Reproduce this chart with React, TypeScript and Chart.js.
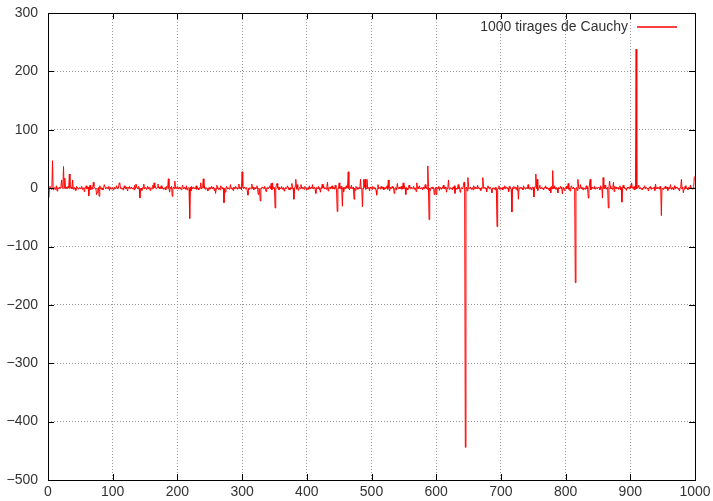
import React, { useEffect, useRef } from "react";
import { Chart, registerables } from "chart.js";

Chart.register(...registerables);

const SERIES_LABEL = "1000 tirages de Cauchy";
const SERIES_COLOR = "#ff0000";
const X_TICKS = [0, 100, 200, 300, 400, 500, 600, 700, 800, 900, 1000];
const Y_TICKS = [-500, -400, -300, -200, -100, 0, 100, 200, 300];

// small draws (hand-read band around zero), 20 rows of 50
const NOISE_ROWS: number[][] = [
  [0,2,-1,3,0,-2,1,5,-3,0, 1,-2,0,4,-5,1,0,-1,2,0, 3,-1,0,1,-4,0,6,-1,2,0, -1,3,0,-3,1,0,2,-1,7,0, -2,1,0,-4,3,1,0,-2,0,1],
  [-1,0,3,-2,1,0,-6,1,0,4, -1,0,2,-1,0,5,-3,1,0,-2, 1,3,0,-1,0,2,-7,0,1,-1, 4,0,-2,1,0,-3,1,0,6,-1, 0,2,-1,0,3,-4,1,0,-2,0],
  [1,-3,0,2,-1,0,4,-1,1,0, -2,8,0,-1,1,0,-3,1,4,0, -1,2,0,-5,1,0,3,-1,0,2, -1,0,1,-3,5,0,-1,2,0,-1, 3,0,1,-2,0,-4,1,0,7,-1],
  [0,1,-2,0,3,-1,2,0,-4,1, 0,-1,5,0,-2,1,3,-1,0,1, -6,0,2,-1,0,4,-1,1,0,-2, 0,1,-3,3,0,1,-2,0,-7,1, 0,3,-1,0,2,-1,5,0,-1,2],
  [3,-1,0,2,-1,0,-3,1,6,0, -1,2,0,-2,4,-3,0,1,-1,0, 2,-5,3,0,-1,2,0,-1,0,4, -2,1,0,-3,1,0,9,-1,0,2, -1,0,3,-2,1,0,-1,-5,0,1],
  [-2,1,0,3,-1,0,2,-4,0,1, -1,5,0,-2,1,0,-3,4,0,1, -1,0,2,-1,-7,0,3,-1,1,0, -2,0,6,-1,1,0,-4,2,0,-1, 3,0,1,-2,0,4,-1,0,2,-3],
  [0,3,-1,2,0,-1,0,1,-5,3, 0,-2,1,0,-1,7,0,2,-3,0, 1,-1,0,4,-2,1,0,-3,5,0, -1,2,0,-1,0,3,-2,-6,0,1, -1,0,2,4,-1,0,-3,1,0,2],
  [1,-2,0,5,-1,0,2,-3,1,0, -1,3,0,-2,1,-5,0,1,-1,0, 4,1,-2,0,-3,1,0,8,-1,0, 2,-1,3,0,-2,1,0,-4,0,1, -1,6,0,-1,2,0,-2,3,0,-1],
  [-3,0,1,-2,4,0,-1,2,0,6, -1,0,2,-3,0,1,-1,0,3,-2, 1,-7,0,2,-1,0,4,-1,1,0, -2,3,0,-5,1,0,2,-1,0,4, -1,0,1,-2,5,0,-3,1,0,-1],
  [2,0,-1,3,-2,0,1,-6,0,2, -1,4,0,1,-2,0,-3,1,0,5, -1,0,2,-1,0,-4,3,0,1,-2, 0,1,-1,7,0,-1,2,0,-3,1, 0,-2,4,0,-1,1,0,-5,2,0],
  [0,-2,3,0,1,-1,0,-4,2,0, 6,-1,0,1,-2,3,0,-1,2,-3, 0,1,-1,0,4,-2,1,0,-5,1, 0,-1,3,0,2,-1,0,1,-3,0, 8,-1,0,2,-1,0,3,-2,1,0],
  [-1,4,0,-2,1,0,-3,1,5,0, -1,2,0,-1,0,3,-2,1,0,-6, 1,0,2,-1,4,0,-1,0,1,-3, 2,0,-1,6,0,1,-2,0,3,-1, 0,-4,1,0,2,-1,0,3,-2,1],
  [0,2,-1,0,3,-4,1,0,-2,1, 0,5,-1,0,2,-1,-7,0,1,3, -2,0,1,-1,0,-3,2,0,4,-1, 1,0,-2,0,6,-1,2,0,-3,1, 0,-1,4,0,1,-2,0,2,-5,0],
  [3,-1,0,2,-2,0,1,-3,4,0, -1,2,0,-1,5,0,1,-2,0,-4, 1,0,-1,3,0,2,-1,0,-6,1, 4,0,-1,2,0,-2,7,0,-1,1, 0,-3,2,0,1,-1,0,4,-2,0],
  [-2,0,1,-3,2,0,4,-1,0,2, -1,0,-6,3,0,1,-2,0,1,-1, 3,0,-1,2,0,-4,5,0,-1,1, 0,2,-1,0,-3,4,1,0,-2,0, 1,-1,6,0,-2,1,0,-3,0,2],
  [1,-2,0,3,0,-1,2,-4,0,1, 5,-1,0,2,-1,0,-3,1,0,4, -1,2,0,-2,0,-5,1,0,3,-1, 0,2,-1,4,0,-2,1,0,-8,1, 0,-1,3,0,2,-1,0,1,-4,0],
  [0,3,-1,2,0,-2,0,-5,1,4, 0,-1,2,0,-2,3,0,1,-4,0, 2,-1,0,6,-1,2,0,-3,1,0, -2,0,4,-1,1,0,-2,7,0,-3, 1,0,2,-1,0,3,-2,0,1,-1],
  [-1,2,0,-3,4,0,1,-2,0,1, -1,5,0,-2,0,1,-4,2,0,3, -1,0,-2,1,0,-6,3,0,2,-1, 0,1,-2,0,4,-3,1,0,-1,5, 0,2,-1,0,-4,1,0,2,-1,0],
  [4,0,-1,2,0,-2,3,-3,0,1, -1,0,2,5,-1,0,1,-2,0,-3, 1,0,4,-1,2,0,-1,0,-5,1, 0,3,-2,1,0,-1,0,2,-4,7, 0,-1,2,0,1,-2,3,0,-1,0],
  [0,-2,1,0,3,-1,0,2,-4,0, 1,-1,6,0,-2,1,0,-3,4,0, -1,2,0,1,-2,0,-5,1,3,0, -1,2,0,-2,0,4,-1,1,0,-3, 2,0,-1,5,0,1,-2,0,3,1],
];

// larger draws: [draw index, value]
const SPIKES: [number, number][] = [
  [1,-16],[7,47],[21,14],[24,37],[26,17],[33,24],[38,14],[63,-13],[70,10],[75,-11],[79,-14],[87,6],
  [110,9],[136,7],[142,-17],[164,9],[170,7],[186,16],[192,-14],[196,12],[208,5],[219,-52],[240,16],
  [259,-9],[272,-25],[295,7],[300,28],[309,-12],[325,-11],[328,-22],[345,8],[347,9],[351,-34],[354,8],
  [380,-19],[383,15],[385,6],[414,-9],[424,7],[432,10],[447,-40],[450,9],[455,-31],[464,28],[473,-19],
  [483,15],[486,-32],[488,15],[490,15],[493,15],[508,-12],[526,14],[535,-9],[549,9],[553,-11],[570,9],
  [587,38],[589,-54],[597,-11],[600,-11],[619,14],[629,-9],[637,-7],[643,10],[645,-444],[649,18],
  [672,18],[686,-8],[694,-66],[717,-41],[727,-19],[751,-15],[754,24],[756,15],[777,-8],[780,30],
  [795,-10],[804,8],[815,-162],[819,15],[835,-17],[838,15],[857,-17],[858,18],[866,-34],[868,12],
  [874,10],[887,-24],[902,9],[909,238],[948,-47],[979,15],[982,-8],[999,20],
];

const FONT = '"Liberation Sans", Arial, Helvetica, sans-serif';
const TEXT = "#333333";

const fmt = (v: number) => String(v).replace("-", "\u2212");

const framePlugin = {
  id: "gnuFrame",
  afterDraw(chart: any) {
    const { ctx, chartArea: a, scales } = chart;
    ctx.save();
    ctx.strokeStyle = "#000";
    ctx.lineWidth = 1;
    ctx.setLineDash([]);
    ctx.strokeRect(Math.round(a.left) + 0.5, Math.round(a.top) + 0.5, Math.round(a.right - a.left), Math.round(a.bottom - a.top));
    const L = 6;
    ctx.beginPath();
    X_TICKS.forEach((t) => {
      const x = Math.round(scales.x.getPixelForValue(t)) + 0.5;
      ctx.moveTo(x, a.bottom); ctx.lineTo(x, a.bottom - L);
      ctx.moveTo(x, a.top); ctx.lineTo(x, a.top + L);
    });
    Y_TICKS.forEach((t) => {
      const y = Math.round(scales.y.getPixelForValue(t)) + 0.5;
      ctx.moveTo(a.left, y); ctx.lineTo(a.left + L, y);
      ctx.moveTo(a.right, y); ctx.lineTo(a.right - L, y);
    });
    ctx.stroke();
    // key
    const ky = a.top + 14;
    const lineEnd = a.right - 18;
    const lineStart = lineEnd - 40;
    ctx.font = `14px ${FONT}`;
    ctx.fillStyle = TEXT;
    ctx.textAlign = "right";
    ctx.textBaseline = "middle";
    ctx.fillText(SERIES_LABEL, lineStart - 9, ky);
    ctx.strokeStyle = SERIES_COLOR;
    ctx.lineWidth = 1.5;
    ctx.beginPath();
    ctx.moveTo(lineStart, Math.round(ky));
    ctx.lineTo(lineEnd, Math.round(ky));
    ctx.stroke();
    ctx.restore();
  },
};

export default function App() {
  const ref = useRef<HTMLCanvasElement>(null);
  useEffect(() => {
    const values: number[] = ([] as number[]).concat(...NOISE_ROWS);
    SPIKES.forEach(([i, v]) => {
      if (i < values.length) values[i] = v;
    });
    const points = values.map((y, i) => ({ x: i, y }));
    const chart = new Chart(ref.current!, {
      type: "line",
      data: {
        datasets: [
          {
            label: SERIES_LABEL,
            data: points,
            borderColor: SERIES_COLOR,
            borderWidth: 1,
            pointRadius: 0,
            tension: 0,
            fill: false,
          },
        ],
      },
      options: {
        animation: false,
        responsive: false,
        devicePixelRatio: 1,
        parsing: false,
        layout: { padding: { left: 0, top: 13, right: 18, bottom: 0 } },
        plugins: { legend: { display: false }, tooltip: { enabled: false } },
        scales: {
          x: {
            type: "linear",
            min: 0,
            max: 1000,
            afterFit: (s: any) => { s.height = 21; s.paddingLeft = 0; s.paddingRight = 0; },
            afterBuildTicks: (s: any) => { s.ticks = X_TICKS.map((v) => ({ value: v })); },
            ticks: { padding: 4, maxRotation: 0, autoSkip: false, font: { family: FONT, size: 14 }, color: TEXT, callback: (v: any) => fmt(v) },
            grid: { color: "#999999", lineWidth: 1, drawTicks: false },
            border: { display: false, dash: [1, 2] },
          },
          y: {
            type: "linear",
            min: -500,
            max: 300,
            afterFit: (s: any) => { s.width = 48; s.paddingTop = 0; s.paddingBottom = 0; },
            afterBuildTicks: (s: any) => { s.ticks = Y_TICKS.map((v) => ({ value: v })); },
            ticks: { padding: 10, autoSkip: false, font: { family: FONT, size: 14 }, color: TEXT, callback: (v: any) => fmt(v) },
            grid: { color: "#999999", lineWidth: 1, drawTicks: false },
            border: { display: false, dash: [1, 2] },
          },
        },
      },
      plugins: [framePlugin],
    });
    return () => chart.destroy();
  }, []);
  return (
    <div style={{ position: "fixed", left: 0, top: 0, width: 713, height: 501, background: "#fff" }}>
      <canvas ref={ref} width={713} height={501} style={{ width: 713, height: 501, display: "block" }} />
    </div>
  );
}
